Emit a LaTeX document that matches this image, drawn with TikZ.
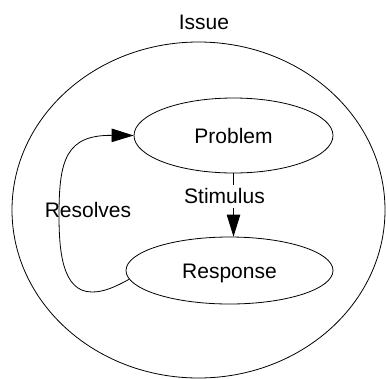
\documentclass[tikz,border=0pt]{standalone}
\usepackage{fontspec}
\setmainfont{Liberation Sans}
\usetikzlibrary{arrows.meta,shapes.geometric}
\begin{document}
\begin{tikzpicture}[x=1pt,y=-1pt,
  line width=0.8pt,
  lbl/.style={font=\fontsize{21}{25}\selectfont, text height=15pt, text depth=0pt, inner sep=4pt},
  bubble/.style={ellipse, draw, lbl},
  link/.style={-{Triangle[length=22pt,width=13.5pt]}}]
  \useasboundingbox (0,0) rectangle (387,378);

  % outer issue region and its title
  \node[ellipse, draw, minimum width=373pt, minimum height=336pt] (issue) at (198.5,210) {};
  \node[lbl] (issuelabel) at (204,21.5) {Issue};

  % inner states
  \node[bubble, minimum width=199pt, minimum height=75pt] (problem) at (233.5,135.5) {Problem};
  \node[bubble, minimum width=207pt, minimum height=67pt] (response) at (229.5,270.5) {Response};

  % problem triggers a response
  \draw[link] (problem.south) -- node[lbl, pos=0.36, fill=white, xshift=-9pt] (stimlabel) {Stimulus} (problem.south |- response.north);

  % response loops back and resolves the problem
  \draw[link] (response.185) .. controls (115,287) and (104,292) .. (92,292)
    .. controls (62,292) and (59,250) .. (59,215)
    .. controls (59,160) and (66,135) .. (problem.west);
  \node[lbl] (reslabel) at (88,210) {Resolves};
\end{tikzpicture}
\end{document}
